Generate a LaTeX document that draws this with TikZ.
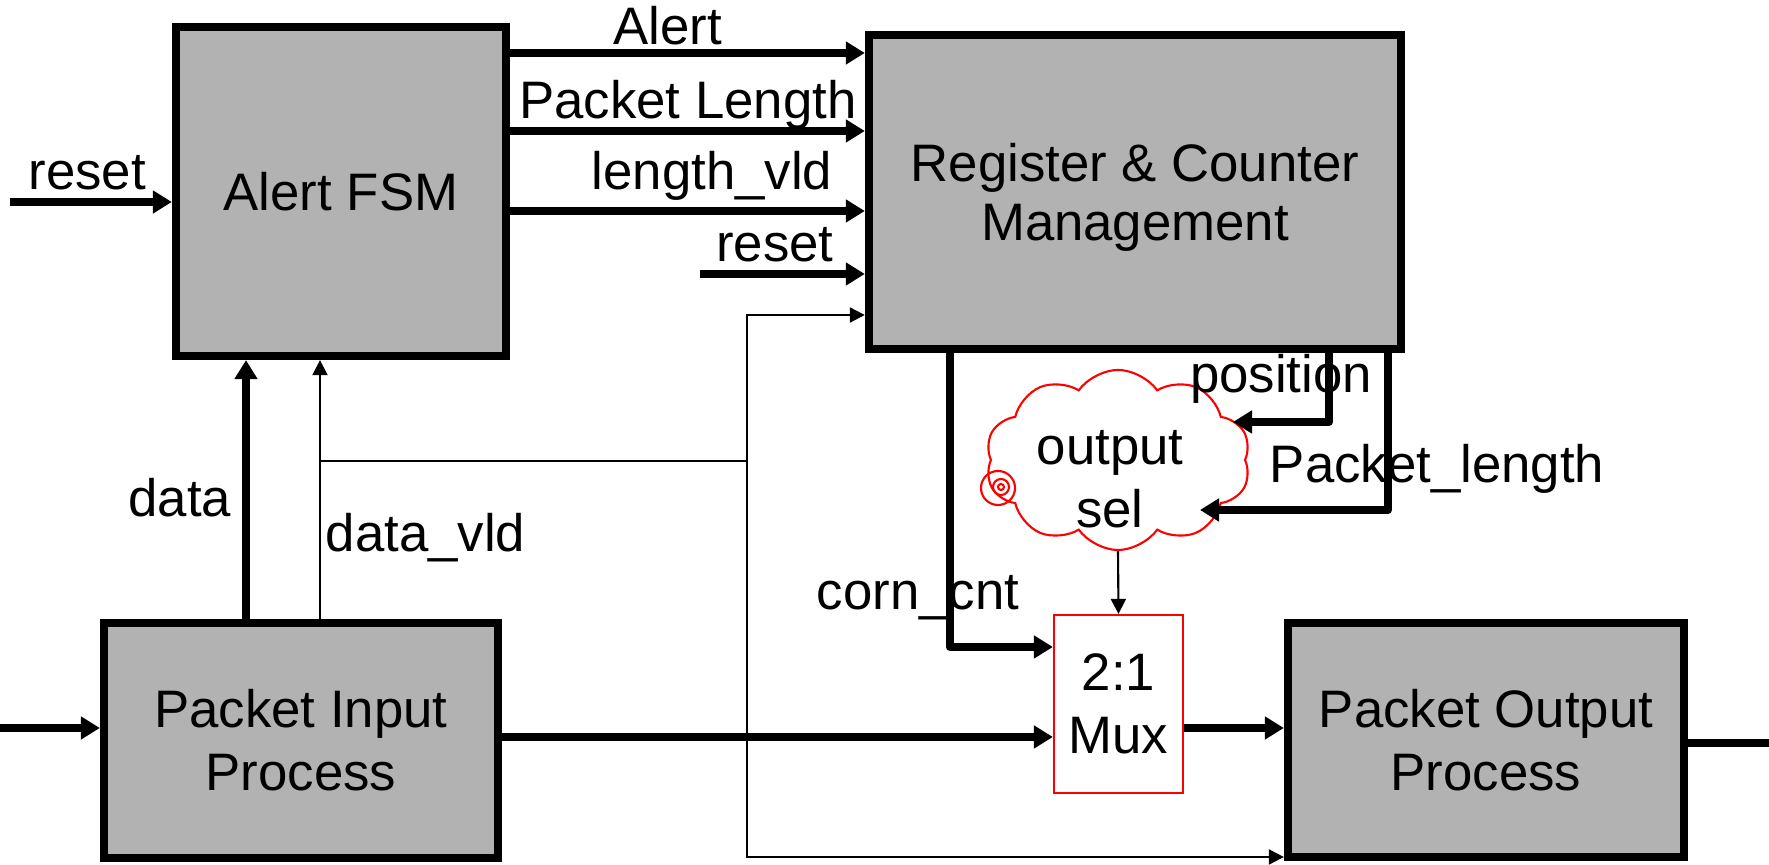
\documentclass[tikz,border=0pt]{standalone}
\usepackage{fontspec}
\setmainfont{Liberation Sans}
\usepackage{xcolor}
\usepackage{tikz}
\usetikzlibrary{arrows.meta,shapes.symbols}

\begin{document}
\begin{tikzpicture}[x=0.01cm,y=-0.01cm,font=\fontsize{15}{18}\selectfont,
  bus/.style={line width=2.3pt,-{Triangle[length=0.19cm,width=0.22cm]}},
  sig/.style={line width=0.6pt,-{Triangle[length=0.15cm,width=0.15cm]}},
  lbl/.style={inner sep=0pt,anchor=base}]

    \tikzstyle{block} = [rectangle,draw,line width=2.3pt,fill=black!30,inner sep=0pt,align=center]
    \tikzstyle{redbox} = [rectangle,draw=red,line width=0.6pt,fill=white,inner sep=0pt,align=center]

  \useasboundingbox (0,0) rectangle (1769,865);

  \node[block,minimum width=3.3cm,minimum height=3.29cm] (fsm) at (341,191.5) {Alert FSM};
  \node[block,minimum width=5.32cm,minimum height=3.14cm,text depth=0pt,
    font=\fontsize{15}{17}\selectfont] (reg) at (1135,192) {Register \& Counter\\Management};
  \node[block,minimum width=3.94cm,minimum height=2.35cm] (pin) at (301,740.5) {Packet Input\\Process};
  \node[block,minimum width=3.96cm,minimum height=2.34cm] (pout) at (1486,740) {Packet Output\\Process};
  \node[redbox,minimum width=1.29cm,minimum height=1.78cm] (mux) at (1118.5,704) {2:1\\Mux};
  \node[cloud,draw=red,fill=white,line width=0.6pt,cloud puffs=10,cloud puff arc=110,aspect=1.5,
    minimum width=2.65cm,minimum height=1.8cm] (sel) at (1118,460) {};
  \node[align=center,inner sep=0pt] (seltext) at (1110,479) {output\\sel};
  \draw[red,line width=0.6pt] (998,488) circle[radius=0.17cm] (1001,487) circle[radius=0.08cm]
    (1001,487) circle[radius=0.03cm];

  % rows and taps
  \coordinate (rst1) at (10,202);
  \coordinate (rst2) at (700,274);
  \coordinate (din) at (0,728);
  \coordinate (dout) at (1769,743);
  \coordinate (al) at (0,53);
  \coordinate (pl) at (0,131);
  \coordinate (lv) at (0,211);
  \coordinate (rg) at (0,315);
  \coordinate (bt) at (0,857);
  \coordinate (pi) at (0,737);
  \coordinate (po) at (0,728);
  \coordinate (dat) at (246,0);
  \coordinate (vld) at (320,461);
  \coordinate (tap) at (747,461);
  \coordinate (cnt) at (950,647);
  \coordinate (posx) at (1329,0);
  \coordinate (lenx) at (1388,0);
  \coordinate (posend) at (1233,422);
  \coordinate (lenend) at (1200,510);

  \draw[bus] (rst1) -- (rst1 -| fsm.west);
  \draw[bus] (fsm.east |- al) -- (reg.west |- al);
  \draw[bus] (fsm.east |- pl) -- (reg.west |- pl);
  \draw[bus] (fsm.east |- lv) -- (reg.west |- lv);
  \draw[bus] (rst2) -- (reg.west |- rst2);
  \draw[bus] (pin.north -| dat) -- (fsm.south -| dat);
  \draw[sig] (pin.north -| vld) -- (fsm.south -| vld);
  \draw[sig] (vld) -| (tap |- rg) -- (reg.west |- rg);
  \draw[sig] (tap) |- (pout.west |- bt);
  \draw[bus] (din) -- (din -| pin.west);
  \draw[bus] (pin.east |- pi) -- (mux.west |- pi);
  \draw[bus] (mux.east |- po) -- (pout.west |- po);
  \draw[line width=2.3pt] (pout.east |- dout) -- (dout);
  \draw[bus,line join=round] (reg.south -| cnt) |- (mux.west |- cnt);
  \draw[bus,line join=round] (reg.south -| posx) |- (posend);
  \draw[bus,line join=round] (reg.south -| lenx) |- (lenend);
  \draw[sig] (sel.south) -- (mux.north);

  \node[lbl,anchor=base west] (rstlbl) at (28,190) {reset};
  \node[lbl] (allbl) at (668,45) {Alert};
  \node[lbl] (pllbl) at (688,119) {Packet Length};
  \node[lbl] (lvlbl) at (712,190) {length\_vld};
  \node[lbl] (rstlbl2) at (775,262) {reset};
  \node[lbl,anchor=base east] (datlbl) at (232,517) {data};
  \node[lbl,anchor=base west] (vldlbl) at (325,552) {data\_vld};
  \node[lbl] (cntlbl) at (918,610) {corn\_cnt};
  \node[lbl] (poslbl) at (1281,393) {position};
  \node[lbl] (lenlbl) at (1437,483) {Packet\_length};

\end{tikzpicture}
\end{document}
